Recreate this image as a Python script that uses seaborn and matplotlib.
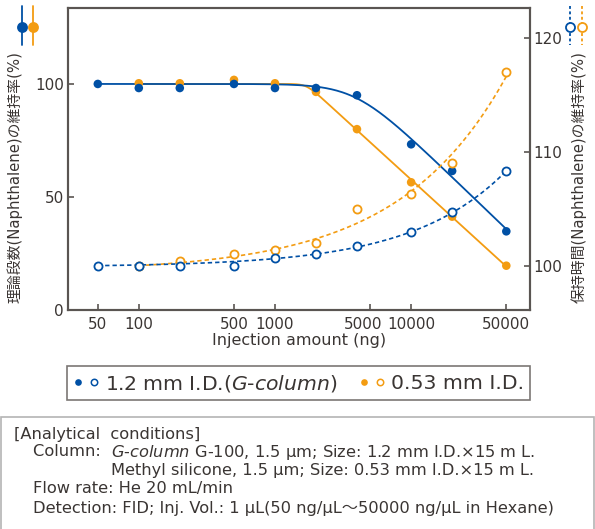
import numpy as np
import pandas as pd
import seaborn as sns
import matplotlib.pyplot as plt
from matplotlib.lines import Line2D
from matplotlib.patches import Rectangle
from matplotlib.legend_handler import HandlerTuple
from matplotlib.ticker import FixedLocator, NullLocator, FixedFormatter
from matplotlib.transforms import ScaledTranslation

# ---------------- data ----------------
inj_12 = [50, 100, 200, 500, 1000, 2000, 4000, 10000, 20000, 50000]
plates_12 = [100.0, 98.2, 98.2, 100.0, 98.2, 98.2, 95.0, 73.3, 61.5, 34.8]
rt_12 = [100.0, 100.0, 100.0, 100.0, 100.7, 101.0, 101.7, 103.0, 104.7, 108.3]

inj_053 = [100, 200, 500, 1000, 2000, 4000, 10000, 20000, 50000]
plates_053 = [100.3, 100.3, 101.8, 100.3, 96.5, 80.0, 56.5, 41.3, 19.6]
rt_053 = [100.0, 100.4, 101.0, 101.4, 102.0, 105.0, 106.3, 109.0, 117.0]

x_ticks = [50, 100, 500, 1000, 5000, 10000, 50000]
x_ticklabels = ["50", "100", "500", "1000", "5000", "10000", "50000"]
left_ticks = [0, 50, 100]
right_ticks = [100, 110, 120]

BLUE = "#0050a5"
ORANGE = "#f39c12"
SPINE = "#5a5552"
TEXT = "#3a3533"

sns.set_theme(style="ticks")
plt.rcParams["font.family"] = ["DejaVu Sans", "Noto Sans CJK JP"]
plt.rcParams["mathtext.fontset"] = "dejavusans"


# ---------------- trend curves ----------------
def fit_decline(x, y, level=100.0):
    """Flat level followed by a log-linear decline (softplus knee)."""
    x = np.asarray(x, float); y = np.asarray(y, float)
    lx = np.log10(x)
    best = None
    for c in np.linspace(2.5, 4.3, 181):
        for w in np.linspace(0.03, 0.6, 58):
            b = w * np.log1p(np.exp((lx - c) / w))
            k = np.sum(b * (level - y)) / np.sum(b * b)
            err = np.sum((level - k * b - y) ** 2)
            if best is None or err < best[0]:
                best = (err, c, w, k)
    _, c, w, k = best
    xs = np.geomspace(x[0], x[-1], 300)
    ys = level - k * w * np.log1p(np.exp((np.log10(xs) - c) / w))
    return xs, ys


def fit_rise(x, y, level=100.0):
    """Power-law growth starting from the first injection amount."""
    x = np.asarray(x, float); y = np.asarray(y, float)
    best = None
    for p in np.linspace(0.1, 1.5, 281):
        b = x ** p - x[0] ** p
        a = np.sum(b * (y - level)) / np.sum(b * b)
        err = np.sum((level + a * b - y) ** 2)
        if best is None or err < best[0]:
            best = (err, p, a)
    _, p, a = best
    xs = np.geomspace(x[0], x[-1], 300)
    return xs, level + a * (xs ** p - x[0] ** p)


# ---------------- figure ----------------
fig = plt.figure(figsize=(5.95, 5.29), dpi=100)
W, H = 595, 529
ax_l, ax_r, ax_t, ax_b = 68, 529.5, 8, 310
ax = fig.add_axes([ax_l / W, 1 - ax_b / H, (ax_r - ax_l) / W, (ax_b - ax_t) / H])
ax2 = ax.twinx()

# theoretical plates (left axis): solid lines, filled markers
for inj, vals, col in [(inj_053, plates_053, ORANGE), (inj_12, plates_12, BLUE)]:
    xs, ys = fit_decline(inj, vals)
    sns.lineplot(x=xs, y=ys, ax=ax, color=col, lw=1.3, sort=False)
    sns.scatterplot(x=inj, y=vals, ax=ax, color=col, s=38, edgecolor="none",
                    zorder=5)

# retention time (right axis): dashed lines, open markers
for inj, vals, col in [(inj_053, rt_053, ORANGE), (inj_12, rt_12, BLUE)]:
    xs, ys = fit_rise(inj, vals)
    sns.lineplot(x=xs, y=ys, ax=ax2, color=col, lw=1.2, sort=False,
                 linestyle=(0, (2.6, 1.8)))
    sns.scatterplot(x=inj, y=vals, ax=ax2, s=34, facecolor="white",
                    edgecolor=col, linewidth=1.3, zorder=5)

ax.set_xscale("log")
ax.set_xlim(30.2, 74000)
ax.set_ylim(0, 133.6)
ax2.set_ylim(96.1, 122.66)

ax.xaxis.set_major_locator(FixedLocator(x_ticks))
ax.xaxis.set_major_formatter(FixedFormatter(x_ticklabels))
ax.xaxis.set_minor_locator(NullLocator())
ax.set_yticks(left_ticks)
ax2.set_yticks(right_ticks)
for a in (ax, ax2):
    a.set_xlabel(""); a.set_ylabel("")
    a.tick_params(direction="in", length=4.3, width=1.2, color=SPINE,
                  labelsize=10.9, labelcolor=TEXT)
    for s in a.spines.values():
        s.set_linewidth(1.5); s.set_color(SPINE)
ax.tick_params(axis="x", pad=5)
ax.tick_params(axis="y", pad=3)
ax2.tick_params(axis="y", pad=3)

ax.set_xlabel("Injection amount (ng)", fontsize=11.5, color=TEXT, labelpad=1)

fig.text(15 / W, 1 - 177 / H, "理論段数(Naphthalene)の維持率(%)", rotation=90,
         ha="center", va="center", fontsize=10.7, color=TEXT)
fig.text(579 / W, 1 - 177 / H, "保持時間(Naphthalene)の維持率(%)", rotation=90,
         ha="center", va="center", fontsize=10.7, color=TEXT)

# axis keys in the corners
def key(xpx, col, filled, dashed):
    ls = (0, (1.6, 1.4)) if dashed else "-"
    fig.add_artist(Line2D([xpx / W, xpx / W], [1 - 6 / H, 1 - 45 / H],
                          transform=fig.transFigure, color=col, lw=1.3,
                          linestyle=ls))
    fig.add_artist(Line2D([xpx / W], [1 - 26.5 / H], transform=fig.transFigure,
                          marker="o", ms=6.5, color=col,
                          mfc=col if filled else "white", mew=1.3, lw=0))

key(22.3, BLUE, True, False)
key(33.3, ORANGE, True, False)
key(570, BLUE, False, True)
key(581.7, ORANGE, False, True)

# series legend
def pair(col):
    return (Line2D([], [], marker="o", ls="", ms=4.8, color=col, mew=0),
            Line2D([], [], marker="o", ls="", ms=4.6, mfc="white", mec=col,
                   mew=1.1))

leg = fig.legend(handles=[pair(BLUE), pair(ORANGE)],
                 labels=["1.2 mm I.D.($\\mathit{G}$-$\\mathit{column}$)",
                         "0.53 mm I.D."],
                 handler_map={tuple: HandlerTuple(ndivide=None, pad=0.25)},
                 ncol=2, loc="center", bbox_to_anchor=(298.5 / W, 1 - 383 / H),
                 fontsize=14.7, frameon=True, fancybox=False, edgecolor=SPINE,
                 handlelength=1.3, handletextpad=0.3, columnspacing=1.0,
                 borderpad=0.3, labelcolor=TEXT)
leg.get_frame().set_linewidth(1.2)

# analytical conditions box
fig.add_artist(Rectangle((1 / W, -0.01), 593 / W, 1 - 417 / H + 0.01,
                         transform=fig.transFigure, fill=False,
                         edgecolor="#b4b4b4", lw=1.2))
cond_kw = dict(fontsize=11.7, color=TEXT, va="center", ha="left")
fig.text(14 / W, 1 - 434 / H, "[Analytical  conditions]", **cond_kw)
col_head = fig.text(33 / W, 1 - 452 / H, "Column:  ", **cond_kw)
fig.text(33 / W, 1 - 489 / H, "Flow rate: He 20 mL/min", **cond_kw)
fig.text(33 / W, 1 - 508 / H,
         "Detection: FID; Inj. Vol.: 1 µL(50 ng/µL～50000 ng/µL in Hexane)",
         **cond_kw)

fig.canvas.draw()
renderer = fig.canvas.get_renderer()
x_col = fig.transFigure.inverted().transform(
    (col_head.get_window_extent(renderer).x1, 0))[0]
fig.text(x_col, 1 - 452 / H,
         "$\\mathit{G}$-$\\mathit{column}$ G-100, 1.5 µm; Size: 1.2 mm I.D.×15 m L.",
         **cond_kw)
fig.text(x_col, 1 - 471 / H,
         "Methyl silicone, 1.5 µm; Size: 0.53 mm I.D.×15 m L.", **cond_kw)

# nudge the crowded 5000 label left so it clears 10000
for lbl in ax.get_xticklabels():
    if lbl.get_text() == "5000":
        lbl.set_transform(lbl.get_transform() +
                          ScaledTranslation(-7 / 100, 0, fig.dpi_scale_trans))

fig.savefig("out.png", dpi=100)
